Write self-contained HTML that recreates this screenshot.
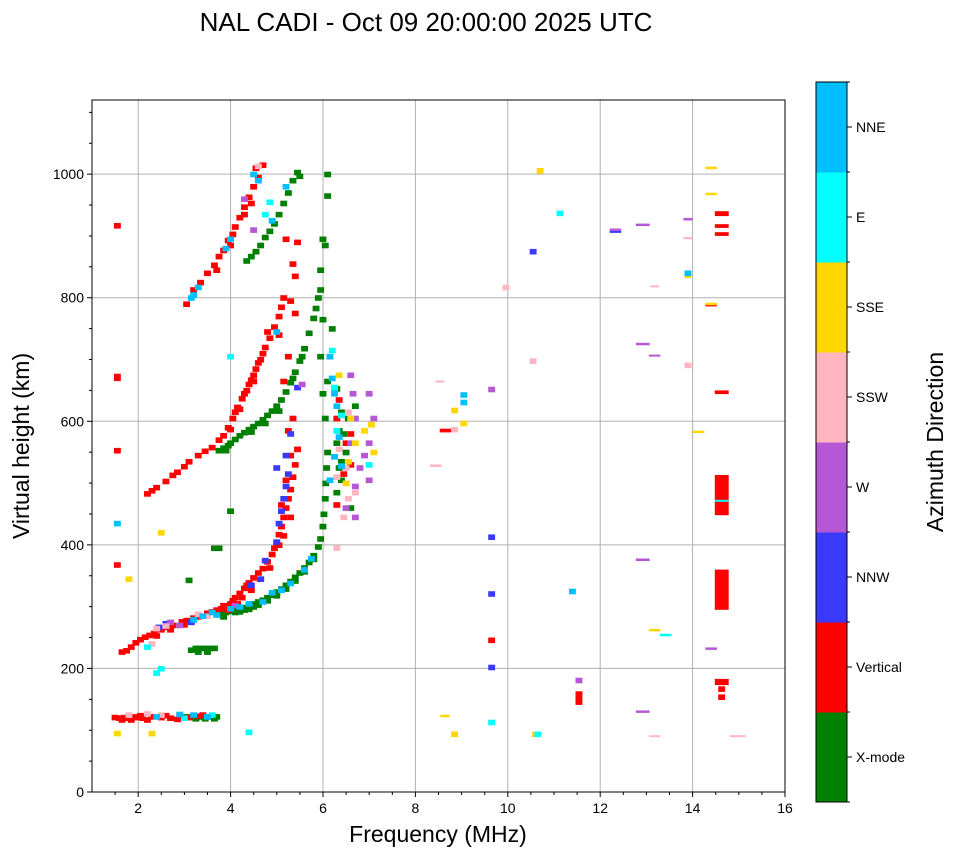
<!DOCTYPE html>
<html><head><meta charset="utf-8">
<style>
html,body{margin:0;padding:0;background:#fff;}
svg{display:block;font-family:"Liberation Sans","DejaVu Sans",sans-serif;}
</style></head>
<body>
<svg id="chart" width="958" height="857" viewBox="0 0 958 857" xmlns="http://www.w3.org/2000/svg">
<text x="426" y="31" font-size="26" text-anchor="middle">NAL CADI - Oct 09 20:00:00 2025 UTC</text>
<g id="grid"></g>
<g id="marks"></g>
<rect x="92" y="100" width="693" height="692" fill="none" stroke="#000" stroke-width="1"/>
<g id="axes"></g>
<text x="438" y="842" font-size="23" text-anchor="middle">Frequency (MHz)</text>
<text transform="translate(29,446) rotate(-90)" font-size="23" text-anchor="middle">Virtual height (km)</text>
<g id="cbar"></g>
<text transform="translate(943,442) rotate(-90)" font-size="23" text-anchor="middle">Azimuth Direction</text>
</svg>
<script>
const xTicks = [2,4,6,8,10,12,14,16];
const yTicks = [0,200,400,600,800,1000];
const directionNames = ["X-mode","Vertical","NNW","W","SSW","SSE","E","NNE"];
const directionColors = ["#008000","#ff0000","#3a3aff","#b658d6","#ffb6c1","#ffd700","#00ffff","#00bfff"];
// each entry: [freq MHz, height km, optional height span km, optional freq span MHz]
const xmodeEchoes = [
[3.0,117],[3.1,117],[3.2,117],[3.3,117],[3.4,117],[3.5,117],[3.6,117],[3.7,117],[3.25,114],[3.45,114],[3.65,114],
[3.15,225],[3.25,228],[3.35,228],[3.45,228],[3.55,228],[3.65,228],[3.3,222],[3.5,222],
[3.7,283],[3.8,285],[3.9,286],[4.0,288],[4.1,290],[4.2,292],[4.3,294],[4.4,297],[4.5,300],[4.6,303],[4.7,306],[4.8,310],[4.9,314],[5.0,319],[5.1,324],[5.2,330],[5.3,336],[5.4,343],[5.5,350],[5.6,358],[5.7,367],[5.8,378],[5.9,392],[5.95,405],[6.0,425],[6.02,445],[6.05,470],[6.06,495],[6.08,520],[6.1,545],
[3.9,291],[4.1,286],[4.3,290],[4.5,295],[4.8,305],[4.2,287],[4.6,298],[5.0,313],[5.2,324],[5.4,337],[5.6,352],[5.8,372],[3.85,279],[4.4,291],
[3.65,390],[3.75,390],[3.1,338],[4.0,450],
[3.75,548],[3.85,552],[3.95,556],[4.0,560],[4.1,566],[4.2,572],[4.3,577],[4.4,582],[4.5,587],[4.6,592],[4.7,598],[4.8,605],[4.9,612],[5.0,620],[5.1,630],[5.2,643],[5.3,658],[5.4,675],[5.5,693],[5.6,713],[5.7,738],[5.8,762],[5.85,778],[5.9,795],[5.95,808],
[3.9,548],[4.45,578],[4.75,592],[5.05,612],[5.35,665],[5.55,700],
[4.35,855],[4.45,862],[4.55,870],[4.65,880],[4.75,893],[4.85,903],[4.95,915],[5.05,930],[5.15,948],[5.25,965],[5.35,985],[5.45,998],[5.5,992],
[6.05,600],[6.0,640],[6.1,660],[5.95,700],[6.0,760],[5.95,840],[6.0,890],[6.1,960],[6.1,995],[6.05,880],[6.2,745],
[6.3,560],[6.35,580],[6.4,530],[6.55,600],[6.4,500],[6.3,480],[6.6,455],[6.5,545],[6.7,620],[6.3,648],[6.4,610],[6.45,575],[6.35,520]
];
const verticalEchoes = [
[1.5,116],[1.6,115],[1.7,116],[1.8,115],[1.9,117],[2.0,116],[2.1,115],[2.3,117],[2.5,116],[2.7,115],[2.9,118],[3.3,118],[2.2,112],[1.65,112],[1.85,112],[2.05,119],[2.6,119],[2.85,113],[3.1,116],[3.4,120],
[1.55,912],[1.55,665,12],[1.55,548],[1.55,363],
[1.65,222],[1.75,224],[1.85,230],[1.95,237],[2.05,242],[2.15,246],[2.25,249],[2.35,252],[2.5,258],[2.6,262],[2.75,265],[2.95,271],[3.05,273],[3.2,277],[3.3,279],[3.5,285],[3.7,290],[3.8,292],[3.9,296],[4.0,300],[4.05,305],[4.1,310],[4.2,317],[4.3,325],[4.35,330],[4.4,334],[4.5,342],[4.6,350],[4.7,357],[4.8,368],[4.9,380],[4.95,390],[5.0,398],[5.05,412],[5.1,425],[5.15,440],[5.2,455],[5.25,470],[5.3,485],[5.35,505],[5.4,525],[5.45,550],[5.3,540],[5.2,500],[5.25,580],[5.35,600],[5.1,460],[5.3,440],
[2.4,248],[2.7,258],[3.0,266],[3.6,287],[3.85,297],[3.95,290],[4.15,300],[4.25,310],[4.45,322],[4.65,340],[4.85,358],[5.05,395],[5.15,410],
[2.2,478],[2.3,483],[2.4,488],[2.6,498],[2.75,508],[2.85,513],[3.0,522],[3.1,530],[3.3,540],[3.45,547],[3.6,553],[3.75,565],[3.85,572],[3.95,585],[4.05,600],[4.1,610],[4.15,618],[4.25,632],[4.3,640],[4.4,655],[4.45,662],[4.5,670],[4.55,680],[4.6,690],[4.7,705],[4.75,715],[4.85,730],[4.95,748],[5.05,765],[5.1,780],[5.15,795],
[4.0,582],[4.2,615],[4.35,645],[4.5,660],[4.65,695],[4.8,740],
[5.2,890],[5.45,885],[5.35,850],[5.4,830],[5.05,735],[5.3,790],[5.4,770],[5.25,700],[5.15,660],
[3.05,785],[3.2,808],[3.35,820],[3.5,835],[3.65,848],[3.75,862],[3.85,872],[3.95,888],[4.05,898],[4.1,910],[4.2,925],[4.3,942],[4.4,958],[4.5,975],[4.6,990],[4.7,1010],[4.55,1005],
[3.7,840],[4.0,880],[4.3,930],[4.45,948],
[6.3,600],[6.35,630],[6.5,560],[6.6,525],[6.45,510],[6.3,460],[6.6,575],
[8.65,582,6,0.25],[9.65,241],[11.54,141,22],[14.63,448,65,0.3],[14.63,295,65,0.3],[14.63,173,10,0.3],[14.63,162],[14.63,149],[14.63,644,6,0.3],[14.63,932,8,0.3],[14.63,913,6,0.3],[14.63,900,6,0.3],[14.4,786,4,0.25]
];
const nnwEchoes = [
[5.0,400],[5.05,430],[5.1,450],[5.15,470],[5.2,490],[5.25,510],[5.0,520],[5.2,540],[4.45,330],[4.65,340],[2.6,268],[2.45,262],[3.15,270],[5.3,575],[5.45,650],[4.75,370],
[9.65,408],[9.65,316],[9.65,197],[10.55,870],[12.33,905,4,0.25]
];
const wEchoes = [
[2.7,270],[2.9,265],[4.1,297],[5.55,655],[6.6,670],[6.65,640],[6.7,600],[6.6,560],[6.8,520],[6.7,490],[7.0,640],[7.1,600],[7.0,560],[6.9,540],[7.0,500],[6.5,455],[6.7,440],[4.3,955],[4.5,905],
[9.65,647],[11.54,176],[12.33,908,4,0.25],[12.92,916,4,0.3],[12.92,723,4,0.3],[13.18,705,3,0.25],[12.92,374,4,0.3],[12.92,128,4,0.3],[13.9,925,4,0.2],[14.4,230,4,0.25]
];
const sswEchoes = [
[1.8,120],[2.2,122],[2.5,120],[2.3,235],[2.4,260],[3.5,280],[6.3,390],[6.45,440],[6.5,520],[6.55,470],[6.35,550],[6.55,610],[6.3,505],[6.7,480],[4.6,1008],[2.6,264],[3.3,283],
[8.44,526,4,0.25],[8.53,663,3,0.2],[8.85,582],[9.96,812],[10.55,693],[13.18,89,3,0.25],[13.9,686],[14.98,89,3,0.35],[13.9,895,3,0.2],[13.18,817,3,0.2]
];
const sseEchoes = [
[1.55,90],[2.3,90],[1.8,340],[2.5,415],[6.35,670],[6.5,495],[6.55,530],[6.7,560],[6.9,580],[7.1,545],[6.6,600],[7.05,590],
[8.85,613],[9.05,592],[8.64,121,4,0.2],[8.85,89],[10.7,1001],[10.6,89],[13.18,260,4,0.25],[13.9,832],[14.13,581,4,0.25],[14.4,1008,4,0.25],[14.4,966,4,0.25],[14.4,788,4,0.25]
];
const eEchoes = [
[2.5,195],[2.4,188],[2.2,230],[4.0,700],[4.4,92],[6.2,710],[6.25,650],[6.3,580],[6.4,605],[7.0,525],[4.85,950],[4.75,930],[3.0,115],[3.6,120],
[11.13,932],[13.42,252,4,0.25],[9.65,108],[10.65,89],[14.63,470,3,0.3]
];
const nneEchoes = [
[3.2,800],[3.3,812],[3.15,795],[3.9,875],[4.0,890],[4.5,995],[4.6,985],[4.9,920],[5.2,975],
[3.6,286],[3.7,282],[3.4,280],[3.2,274],[4.2,295],[4.0,292],[4.7,303],[5.1,322],[5.3,333],[5.6,355],[5.75,373],[4.4,300],[4.9,318],
[2.9,121],[3.2,120],[3.5,117],[2.4,117],
[6.25,640,10],[6.3,620],[6.35,570],[6.25,538],[6.4,523],[6.2,665],[6.15,700],[6.15,500],[5.0,740],[1.55,430],
[9.05,638],[9.05,626],[11.4,320],[13.9,835]
];
const echoSeries = [xmodeEchoes,verticalEchoes,nnwEchoes,wEchoes,sswEchoes,sseEchoes,eEchoes,nneEchoes];

const NS="http://www.w3.org/2000/svg";
const X0=92,X1=785,Y0=792,Y1=100,FMIN=1,FMAX=16,HMIN=0,HMAX=1120;
function xs(f){return X0+(f-FMIN)/(FMAX-FMIN)*(X1-X0);}
function ys(h){return Y0-(h-HMIN)/(HMAX-HMIN)*(Y0-Y1);}
function mk(tag,attrs,parent){const e=document.createElementNS(NS,tag);for(const k in attrs)e.setAttribute(k,attrs[k]);parent.appendChild(e);return e;}

const grid=document.getElementById('grid'),axes=document.getElementById('axes'),marks=document.getElementById('marks'),cbar=document.getElementById('cbar');
xTicks.forEach(t=>{
  const x=xs(t);
  if(t<FMAX){const g=mk('line',{x1:x,x2:x,y1:Y1,y2:Y0,stroke:'#b0b0b0','stroke-width':1},grid);
  
  }
  mk('line',{x1:x,x2:x,y1:Y0,y2:Y0+5,stroke:'#000'},axes);
  const l=mk('text',{x:x,y:Y0+21,'font-size':14,'text-anchor':'middle'},axes);
  l.textContent=t;
  
  
});
for(let f=1.5;f<16;f+=0.5){if(Number.isInteger(f/2))continue;const x=xs(f);mk('line',{x1:x,x2:x,y1:Y0,y2:Y0+3,stroke:'#000'},axes);}
yTicks.forEach(t=>{
  const y=ys(t);
  if(t>0){const g=mk('line',{x1:X0,x2:X1,y1:y,y2:y,stroke:'#b0b0b0','stroke-width':1},grid);
  
  }
  mk('line',{x1:X0-5,x2:X0,y1:y,y2:y,stroke:'#000'},axes);
  const l=mk('text',{x:X0-8,y:y+5,'font-size':14,'text-anchor':'end'},axes);
  l.textContent=t;
  
  
});
for(let h=50;h<1120;h+=50){if(h%200===0)continue;const y=ys(h);mk('line',{x1:X0-3,x2:X0,y1:y,y2:y,stroke:'#000'},axes);}

echoSeries.forEach((arr,ci)=>{
  arr.forEach(p=>{
    const span=p[2]||9, fw=p[3]||0.15;
    const x=xs(p[0]-fw/2), w=xs(p[0]+fw/2)-x;
    const y=ys(p[1]+span), hh=ys(p[1])-y;
    const r=mk('rect',{x:x.toFixed(1),y:y.toFixed(1),width:w.toFixed(1),height:Math.max(hh,2).toFixed(1),fill:directionColors[ci]},marks);
    
    
  });
});

const CB_X=816,CB_W=31,CB_TOP=82,CB_BOT=802,segH=(CB_BOT-CB_TOP)/directionNames.length;
directionNames.forEach((n,i)=>{
  const y=CB_BOT-(i+1)*segH;
  const r=mk('rect',{x:CB_X,y:y,width:CB_W,height:segH+0.5,fill:directionColors[i]},cbar);
  
  
  const yc=y+segH/2;
  mk('line',{x1:CB_X+CB_W,x2:CB_X+CB_W+5,y1:yc,y2:yc,stroke:'#000'},cbar);
  const t=mk('text',{x:CB_X+CB_W+9,y:yc+5,'font-size':14},cbar);
  t.textContent=n;
  
  
});
for(let i=0;i<=directionNames.length;i++){const y=CB_BOT-i*segH;mk('line',{x1:CB_X+CB_W,x2:CB_X+CB_W+3,y1:y,y2:y,stroke:'#000'},cbar);}
mk('rect',{x:CB_X,y:CB_TOP,width:CB_W,height:CB_BOT-CB_TOP,fill:'none',stroke:'#000'},cbar);
</script>
</body></html>
